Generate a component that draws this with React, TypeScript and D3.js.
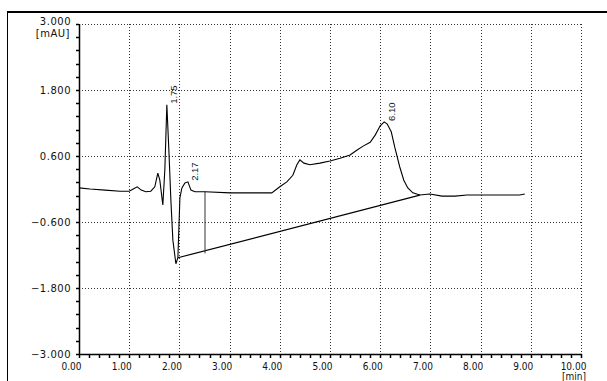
import * as d3 from "d3";
import { useEffect, useRef } from "react";

// chromatogram trace (time in min, signal in mAU)
const traceTime = [
  0.0, 0.22, 0.52, 0.82, 1.0, 1.08, 1.16, 1.24, 1.33, 1.43, 1.51, 1.57, 1.61, 1.67,
  1.71, 1.75, 1.79, 1.83, 1.87, 1.93, 1.97, 2.01, 2.05, 2.11, 2.17, 2.23, 2.31, 2.51,
  3.01, 3.61, 3.84, 4.0, 4.14, 4.26, 4.34, 4.4, 4.48, 4.6, 4.8, 5.0, 5.2, 5.4, 5.54,
  5.66, 5.8, 5.9, 6.0, 6.08, 6.14, 6.22, 6.29, 6.39, 6.47, 6.55, 6.65, 6.79, 6.99,
  7.23, 7.49, 7.73, 7.99, 8.39, 8.78, 8.88,
];
const traceSignal = [
  0.02, 0.0, -0.02, -0.04, -0.04, 0.0, 0.04, -0.02, -0.05, -0.04, 0.04, 0.29, 0.16, -0.29,
  0.35, 1.53, 0.71, -0.2, -0.93, -1.36, -1.25, -0.16, 0.02, 0.11, 0.13, -0.02, -0.05, -0.05,
  -0.07, -0.07, -0.07, 0.04, 0.13, 0.25, 0.44, 0.53, 0.47, 0.44, 0.47, 0.51, 0.56, 0.62, 0.71,
  0.78, 0.85, 0.98, 1.15, 1.22, 1.18, 1.04, 0.76, 0.4, 0.16, 0.02, -0.07, -0.11, -0.09,
  -0.13, -0.13, -0.11, -0.11, -0.11, -0.11, -0.09,
];

// integration baseline + peak delimiter
const baseTime = [1.97, 6.79];
const baseSignal = [-1.25, -0.11];
const delimTime = 2.51;
const delimSignal = [-0.05, -1.17];

const peakTimes = [1.75, 2.17, 6.08];
const peakLabels = ["1.75", "2.17", "6.10"];

const yTicks = [3.0, 1.8, 0.6, -0.6, -1.8, -3.0];
const xTicks = [0, 1, 2, 3, 4, 5, 6, 7, 8, 9, 10];

const W = 607;
const H = 381;

export default function App() {
  const ref = useRef<SVGSVGElement>(null);

  useEffect(() => {
    const svg = d3.select(ref.current);
    svg.selectAll("*").remove();

    const x = d3.scaleLinear().domain([0, 10]).range([79, 581]);
    const y = d3.scaleLinear().domain([-3, 3]).range([354, 24]);

    // outer frame
    svg.append("line").attr("x1", 7).attr("x2", W).attr("y1", 12).attr("y2", 12)
      .attr("stroke", "#000").attr("stroke-width", 2);
    svg.append("line").attr("x1", 7.5).attr("x2", 7.5).attr("y1", 12).attr("y2", H)
      .attr("stroke", "#000");

    // dotted grid
    const grid = svg.append("g").attr("stroke", "#333").attr("stroke-dasharray", "1,2");
    grid.selectAll("line.h").data(yTicks.filter((d) => d > -3)).join("line")
      .attr("x1", x(0)).attr("x2", x(10))
      .attr("y1", (d) => Math.round(y(d)) + 0.5).attr("y2", (d) => Math.round(y(d)) + 0.5);
    grid.selectAll("line.v").data(xTicks.filter((d) => d > 0)).join("line")
      .attr("x1", (d) => Math.round(x(d)) + 0.5).attr("x2", (d) => Math.round(x(d)) + 0.5)
      .attr("y1", y(3)).attr("y2", y(-3));

    // axes lines
    svg.append("line").attr("x1", x(0) + 0.5).attr("x2", x(0) + 0.5)
      .attr("y1", y(3)).attr("y2", y(-3) + 0.5).attr("stroke", "#000").attr("stroke-width", 1.5);
    svg.append("line").attr("x1", x(0)).attr("x2", x(10) + 1)
      .attr("y1", y(-3) + 0.5).attr("y2", y(-3) + 0.5).attr("stroke", "#000").attr("stroke-width", 1.5);

    // minor ticks
    const xMinor = d3.range(0, 10.001, 0.2);
    svg.append("g").selectAll("line").data(xMinor).join("line")
      .attr("x1", (d) => Math.round(x(d)) + 0.5).attr("x2", (d) => Math.round(x(d)) + 0.5)
      .attr("y1", y(-3)).attr("y2", y(-3) + 4)
      .attr("stroke", "#000").attr("stroke-width", 1.5);
    const yMinor = d3.range(0, 25.5).map((i) => -3 + i * 0.24);
    svg.append("g").selectAll("line").data(yMinor).join("line")
      .attr("x1", x(0) - 3).attr("x2", x(0))
      .attr("y1", (d) => Math.round(y(d)) + 0.5).attr("y2", (d) => Math.round(y(d)) + 0.5)
      .attr("stroke", "#000").attr("stroke-width", 1.5);

    // y tick labels
    svg.append("g").attr("font-family", "DejaVu Sans").attr("font-size", 10)
      .attr("letter-spacing", 0.5).attr("text-anchor", "end").attr("fill", "#111")
      .selectAll("text").data(yTicks).join("text")
      .attr("x", 71).attr("y", (d) => (d === 3 ? y(d) - 3 : y(d))).attr("dy", "0.35em")
      .text((d) => d3.format(".3f")(d));
    svg.append("text").attr("font-family", "DejaVu Sans").attr("font-size", 10)
      .attr("letter-spacing", 0.5).attr("text-anchor", "end").attr("fill", "#111")
      .attr("x", 70).attr("y", 33).attr("dy", "0.35em").text("[mAU]");

    // x tick labels
    svg.append("g").attr("font-family", "Liberation Sans Narrow, DejaVu Sans Condensed")
      .attr("font-size", 10).attr("text-anchor", "middle").attr("fill", "#111")
      .selectAll("text").data(xTicks).join("text")
      .attr("x", (d) => x(d) - 7.5).attr("y", 366).attr("dy", "0.35em")
      .text((d) => d3.format(".2f")(d));
    svg.append("text").attr("font-family", "Liberation Sans Narrow, DejaVu Sans Condensed")
      .attr("font-size", 10).attr("text-anchor", "middle").attr("fill", "#111")
      .attr("x", x(10) - 7).attr("y", 376).attr("dy", "0.35em").text("[min]");

    // baseline + delimiter
    const lineGen = d3.line<[number, number]>().x((d) => x(d[0])).y((d) => y(d[1]));
    svg.append("path").attr("d", lineGen(d3.zip(baseTime, baseSignal) as [number, number][]))
      .attr("fill", "none").attr("stroke", "#000").attr("stroke-width", 1.2);
    svg.append("line").attr("x1", x(delimTime)).attr("x2", x(delimTime))
      .attr("y1", y(delimSignal[0])).attr("y2", y(delimSignal[1]))
      .attr("stroke", "#333").attr("stroke-width", 1);

    // trace
    const pts = d3.zip(traceTime, traceSignal) as [number, number][];
    svg.append("path").attr("d", lineGen(pts))
      .attr("fill", "none").attr("stroke", "#000").attr("stroke-width", 1.1);

    // peak labels
    svg.append("g").attr("font-family", "Liberation Sans").attr("font-size", 9.5).attr("fill", "#111")
      .selectAll("text").data(peakTimes).join("text")
      .attr("transform", (d) => {
        const i = d3.minIndex(traceTime, (t) => Math.abs(t - d));
        return `translate(${x(d) + 7},${y(traceSignal[i]) - 1}) rotate(-90)`;
      })
      .attr("dy", "0.35em")
      .text((_, i) => peakLabels[i]);
  }, []);

  return (
    <svg
      ref={ref}
      width={W}
      height={H}
      style={{ position: "absolute", left: 0, top: 0, background: "#fff" }}
    />
  );
}
